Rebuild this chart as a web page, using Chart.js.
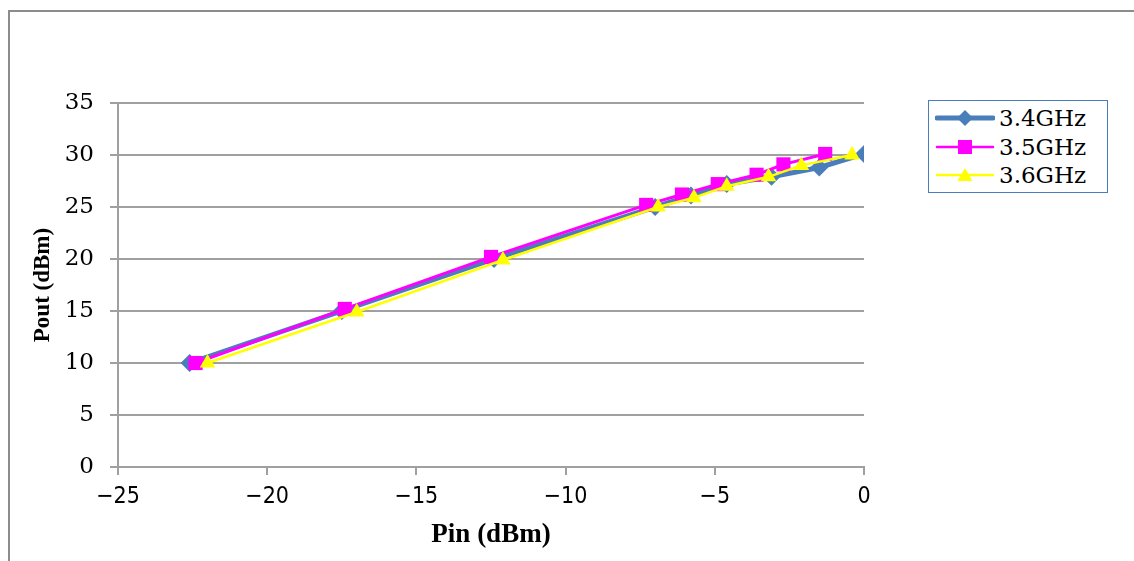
<!DOCTYPE html>
<html>
<head>
<meta charset="utf-8">
<script src="https://cdn.jsdelivr.net/npm/chart.js@4/dist/chart.umd.min.js"></script>
<style>
  html, body { margin: 0; padding: 0; background: #fff; }
  #wrap { position: relative; width: 1134px; height: 561px; overflow: hidden; }
  #frame { position: absolute; left: 8px; top: 10px; width: 1200px; height: 600px; border-left: 2px solid #8c8c8c; border-top: 2px solid #8c8c8c; box-sizing: border-box; }
  #c { position: absolute; left: 0; top: 0; }
  #legend { position: absolute; left: 928px; top: 100px; width: 180px; height: 93px; border: 1.5px solid #4a7ebb; box-sizing: border-box; background: #fff; padding-top: 3px; }
  .row { display: flex; align-items: center; height: 28.5px; }
  .row svg { margin-left: 6px; margin-right: 4px; }
  .row span { font-family: "DejaVu Serif", "Liberation Serif", serif; font-size: 23px; color: #000; }
</style>
</head>
<body>
<div id="wrap">
  <div id="frame"></div>
  <canvas id="c" width="1134" height="561"></canvas>
  <div id="legend"></div>
</div>
<script>
// ---- data ----
const seriesNames = ["3.4GHz", "3.5GHz", "3.6GHz"];
const pin34  = [-22.6, -17.5, -12.4, -7.0, -5.8, -4.6, -3.1, -1.5, 0.0];
const pout34 = [10.0, 15.0, 20.0, 25.0, 26.1, 27.2, 27.9, 28.8, 30.1];
const pin35  = [-22.4, -17.4, -12.5, -7.3, -6.1, -4.9, -3.6, -2.7, -1.3];
const pout35 = [10.0, 15.2, 20.2, 25.2, 26.2, 27.2, 28.1, 29.1, 30.1];
const pin36  = [-22.0, -17.0, -12.1, -6.9, -5.7, -4.6, -3.2, -2.1, -0.4];
const pout36 = [10.0, 14.9, 19.9, 25.0, 25.9, 27.0, 27.9, 29.0, 30.0];
const xTicks = [-25, -20, -15, -10, -5, 0];
const yTicks = [0, 5, 10, 15, 20, 25, 30, 35];

const colors = ["#4a7ebb", "#ff00ff", "#ffff00"];
const styles = ["rectRot", "rect", "triangle"];

function pts(xs, ys) { return xs.map((x, i) => ({ x: x, y: ys[i] })); }

const datasets = [
  { label: seriesNames[0], data: pts(pin34, pout34), borderColor: colors[0], backgroundColor: colors[0],
    borderWidth: 5, pointStyle: styles[0], pointRadius: 9, pointBorderWidth: 0, order: 2 },
  { label: seriesNames[1], data: pts(pin35, pout35), borderColor: colors[1], backgroundColor: colors[1],
    borderWidth: 3, pointStyle: styles[1], pointRadius: 10, pointBorderWidth: 0, order: 1 },
  { label: seriesNames[2], data: pts(pin36, pout36), borderColor: colors[2], backgroundColor: colors[2],
    borderWidth: 2.5, pointStyle: styles[2], pointRadius: 9, pointBorderWidth: 0, order: 0 }
];

const grey = "#a0a0a0";

new Chart(document.getElementById("c"), {
  type: "line",
  data: { datasets: datasets },
  options: {
    responsive: false,
    animation: false,
    layout: { padding: { left: 29, top: 103, right: 270, bottom: 0 } },
    plugins: { legend: { display: false }, tooltip: { enabled: false } },
    elements: { line: { tension: 0 } },
    scales: {
      x: {
        type: "linear", min: -25, max: 0,
        afterBuildTicks: s => { s.ticks = xTicks.map(v => ({ value: v })); },
        afterFit: s => { s.height = 94; },
        grid: { display: true, drawOnChartArea: false, drawTicks: true, tickLength: 8, color: grey, lineWidth: 2 },
        border: { display: true, color: grey, width: 2 },
        ticks: {
          padding: 8, color: "#000", maxRotation: 0,
          font: { family: "'Liberation Sans Narrow', 'DejaVu Sans Condensed', 'Liberation Sans', sans-serif", size: 23 },
          callback: v => (v < 0 ? "\u2212" + Math.abs(v) : String(v))
        },
        title: {
          display: true, text: "Pin (dBm)", color: "#000",
          font: { family: "'Liberation Serif', serif", size: 27, weight: "bold" },
          padding: { top: 0, bottom: 10 }
        }
      },
      y: {
        type: "linear", min: 0, max: 35,
        afterBuildTicks: s => { s.ticks = yTicks.map(v => ({ value: v })); },
        afterFit: s => { s.width = 89; },
        grid: { display: true, drawOnChartArea: true, drawTicks: true, tickLength: 8, color: grey, lineWidth: 2 },
        border: { display: true, color: grey, width: 2 },
        ticks: {
          padding: 16, color: "#000",
          font: { family: "'DejaVu Serif', 'Liberation Serif', serif", size: 23 }
        },
        title: {
          display: true, text: "Pout (dBm)", color: "#000",
          font: { family: "'Liberation Serif', serif", size: 23, weight: "bold" },
          padding: { top: 0, bottom: 10 }
        }
      }
    }
  }
});

// HTML legend
const legend = document.getElementById("legend");
const lineW = [5, 2.5, 2.5];
seriesNames.forEach((name, i) => {
  const row = document.createElement("div");
  row.className = "row";
  let marker = "";
  if (styles[i] === "rectRot") marker = '<polygon points="30,3 38,11 30,19 22,11" fill="' + colors[i] + '"/>';
  else if (styles[i] === "rect") marker = '<rect x="23" y="4" width="14" height="14" fill="' + colors[i] + '"/>';
  else marker = '<polygon points="30,4 37.5,17 22.5,17" fill="' + colors[i] + '"/>';
  row.innerHTML = '<svg width="60" height="22"><line x1="2" y1="11" x2="58" y2="11" stroke="' + colors[i] +
    '" stroke-width="' + lineW[i] + '" stroke-linecap="round"/>' + marker + '</svg><span>' + name + '</span>';
  legend.appendChild(row);
});
</script>
</body>
</html>
